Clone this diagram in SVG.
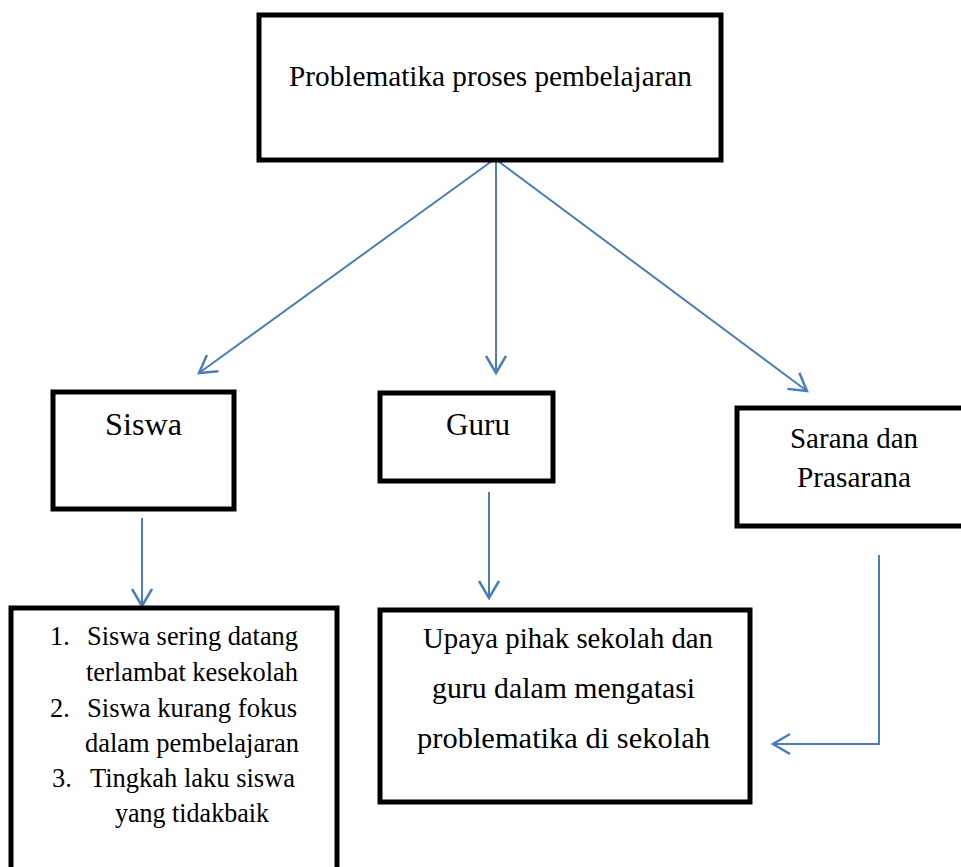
<svg xmlns="http://www.w3.org/2000/svg" width="961" height="867" viewBox="0 0 961 867">
<style>
.box{fill:#fff;stroke:#000;stroke-width:5}
.t{font-family:"Liberation Serif","Times New Roman",serif;fill:#000}
.c{stroke:#4a7ebb;stroke-width:2;fill:none}
</style>
<defs>
<marker id="ah" markerWidth="22" markerHeight="24" refX="18" refY="11" orient="auto" markerUnits="userSpaceOnUse">
<path d="M1,1 L18,11 L1,21" fill="none" stroke="#4a7ebb" stroke-width="2.5"/>
</marker>
</defs>
<rect width="961" height="867" fill="#fff"/>
<g id="connectors">
<line class="c" x1="492" y1="161" x2="199" y2="373" marker-end="url(#ah)"/>
<line class="c" x1="496" y1="161" x2="496" y2="373" marker-end="url(#ah)"/>
<line class="c" x1="498" y1="161" x2="807" y2="391" marker-end="url(#ah)"/>
<line class="c" x1="142" y1="518" x2="142" y2="606" marker-end="url(#ah)"/>
<line class="c" x1="489" y1="492" x2="489" y2="598" marker-end="url(#ah)"/>
<polyline class="c" points="879,555 879,744 773,744" marker-end="url(#ah)"/>
</g>
<g id="node-top">
<rect class="box" x="259" y="15" width="462" height="145"/>
<text class="t" x="289" y="86" font-size="29.5" textLength="403" lengthAdjust="spacingAndGlyphs">Problematika proses pembelajaran</text>
</g>
<g id="node-siswa">
<rect class="box" x="53" y="392" width="181" height="117"/>
<text class="t" x="105" y="435" font-size="32.5" textLength="77" lengthAdjust="spacingAndGlyphs">Siswa</text>
</g>
<g id="node-guru">
<rect class="box" x="380" y="393" width="173" height="88"/>
<text class="t" x="446" y="435" font-size="32" textLength="64" lengthAdjust="spacingAndGlyphs">Guru</text>
</g>
<g id="node-sarana">
<rect class="box" x="737" y="408" width="240" height="118"/>
<text class="t" x="790" y="448" font-size="29" textLength="128" lengthAdjust="spacingAndGlyphs">Sarana dan</text>
<text class="t" x="797" y="487" font-size="29" textLength="114" lengthAdjust="spacingAndGlyphs">Prasarana</text>
</g>
<g id="node-list">
<rect class="box" x="11" y="608" width="326" height="280"/>
<g class="t" font-size="26.4">
<text x="50" y="645">1.</text>
<text x="87" y="645" textLength="211" lengthAdjust="spacingAndGlyphs">Siswa sering datang</text>
<text x="86" y="681" textLength="212" lengthAdjust="spacingAndGlyphs">terlambat kesekolah</text>
<text x="50" y="717">2.</text>
<text x="87" y="717" textLength="210" lengthAdjust="spacingAndGlyphs">Siswa kurang fokus</text>
<text x="85" y="752" textLength="214" lengthAdjust="spacingAndGlyphs">dalam pembelajaran</text>
<text x="52" y="787">3.</text>
<text x="90" y="787" textLength="205" lengthAdjust="spacingAndGlyphs">Tingkah laku siswa</text>
<text x="115" y="822" textLength="154" lengthAdjust="spacingAndGlyphs">yang tidakbaik</text>
</g>
</g>
<g id="node-upaya">
<rect class="box" x="380" y="610" width="370" height="192"/>
<g class="t" font-size="28.8">
<text x="423" y="648" textLength="290" lengthAdjust="spacingAndGlyphs">Upaya pihak sekolah dan</text>
<text x="432" y="698" textLength="263" lengthAdjust="spacingAndGlyphs">guru dalam mengatasi</text>
<text x="417" y="748" textLength="293" lengthAdjust="spacingAndGlyphs">problematika di sekolah</text>
</g>
</g>
</svg>
